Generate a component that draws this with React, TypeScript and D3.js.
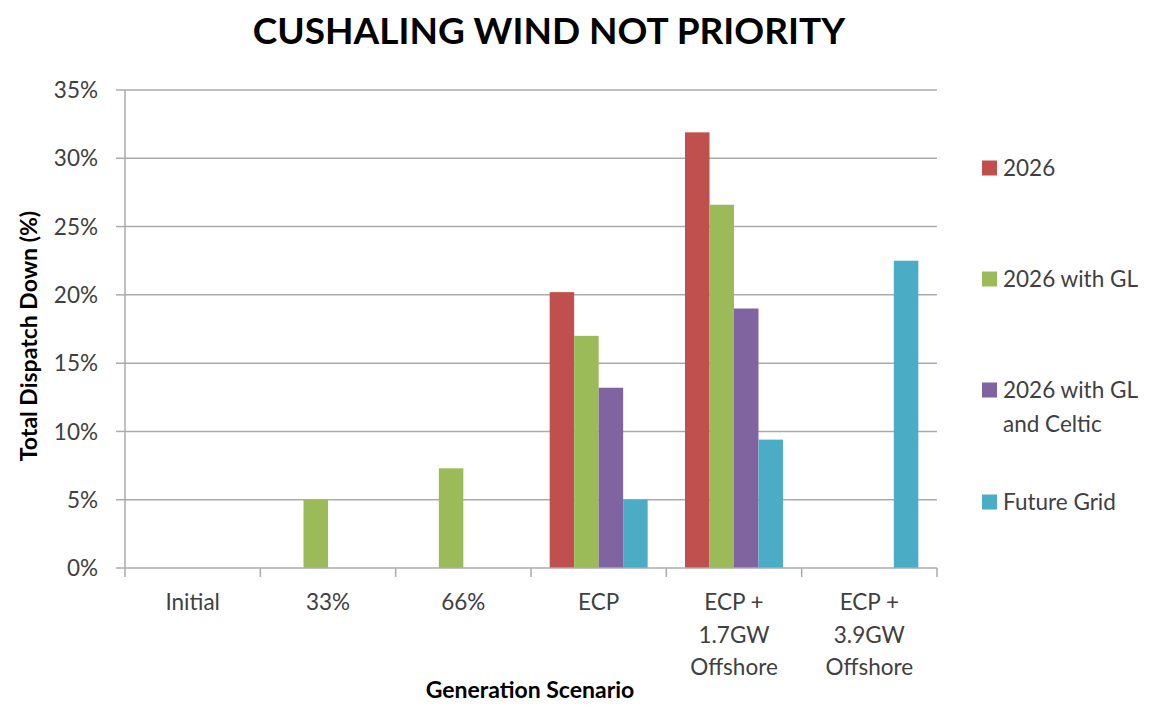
import React from "react";
import * as d3 from "d3";

const categories: string[][] = [
  ["Initial"],
  ["33%"],
  ["66%"],
  ["ECP"],
  ["ECP +", "1.7GW", "Offshore"],
  ["ECP +", "3.9GW", "Offshore"],
];
const seriesNames: string[][] = [
  ["2026"],
  ["2026 with GL"],
  ["2026 with GL", "and Celtic"],
  ["Future Grid"],
];
const seriesColors = ["#C0504D", "#9BBB59", "#8064A2", "#4BACC6"];
const s2026: (number | null)[] = [null, null, null, 0.202, 0.319, null];
const s2026GL: (number | null)[] = [null, 0.05, 0.073, 0.17, 0.266, null];
const s2026GLCeltic: (number | null)[] = [null, null, null, 0.132, 0.19, null];
const sFutureGrid: (number | null)[] = [null, null, null, 0.05, 0.094, 0.225];
const yTicks = [0, 0.05, 0.1, 0.15, 0.2, 0.25, 0.3, 0.35];

const W = 1151;
const H = 707;
const FONT = "Lato, 'Open Sans', sans-serif";
const TEXT = "#404040";
const GRID = "#ABABAB";

export default function App() {
  const left = 125, right = 937, top = 90, bottom = 568;
  const series = [s2026, s2026GL, s2026GLCeltic, sFutureGrid];
  const x0 = d3.scaleBand<number>().domain(categories.map((_, i) => i)).range([left, right]).paddingInner(0).paddingOuter(0);
  const bw = x0.bandwidth();
  const pad = bw * 0.138;
  const x1 = d3.scaleBand<number>().domain(series.map((_, i) => i)).range([pad, bw - pad]).padding(0);
  const y = d3.scaleLinear().domain([0, 0.35]).range([bottom, top]);
  const fmt = d3.format(".0%");
  const legendY = [168, 279, 390, 502];

  return (
    <div style={{ position: "fixed", left: 0, top: 0 }}>
      <svg width={W} height={H} style={{ display: "block", background: "#fff" }} fontFamily={FONT}>
        <text x={549} y={44} textAnchor="middle" fontSize={37} fontWeight="bold" fill="#000">
          CUSHALING WIND NOT PRIORITY
        </text>
        {yTicks.map((t) => (
          <g key={t}>
            {t > 0 && <line x1={left} x2={right} y1={y(t)} y2={y(t)} stroke={GRID} strokeWidth={1.5} />}
            <line x1={left - 9} x2={left} y1={y(t)} y2={y(t)} stroke={GRID} strokeWidth={1.5} />
            <text x={98} y={y(t)} dy="0.36em" textAnchor="end" fontSize={22.5} fill={TEXT}>
              {fmt(t)}
            </text>
          </g>
        ))}
        <line x1={left} x2={left} y1={top} y2={bottom} stroke={GRID} strokeWidth={1.5} />
        {categories.map((c, i) => (
          <g key={i} transform={`translate(${x0(i)},0)`}>
            {series.map((s, j) => {
              const v = s[i];
              if (v == null) return null;
              return (
                <rect key={j} x={x1(j)} y={y(v)} width={x1.bandwidth()} height={y(0) - y(v)} fill={seriesColors[j]} />
              );
            })}
          </g>
        ))}
        <line x1={left} x2={right} y1={bottom} y2={bottom} stroke={GRID} strokeWidth={1.5} />
        {d3.range(categories.length + 1).map((i) => {
          const xx = left + i * bw;
          return <line key={i} x1={xx} x2={xx} y1={bottom} y2={bottom + 9} stroke={GRID} strokeWidth={1.5} />;
        })}
        {categories.map((c, i) => (
          <text key={i} x={(x0(i) as number) + bw / 2} y={610} textAnchor="middle" fontSize={22.5} fill={TEXT}>
            {c.map((line, k) => (
              <tspan key={k} x={(x0(i) as number) + bw / 2} y={610 + k * 32.5}>
                {line}
              </tspan>
            ))}
          </text>
        ))}
        <text x={530} y={698} textAnchor="middle" fontSize={23} fontWeight="bold" fill="#000">
          Generation Scenario
        </text>
        <text transform={`translate(37,336) rotate(-90)`} textAnchor="middle" fontSize={23} fontWeight="bold" fill="#000">
          Total Dispatch Down (%)
        </text>
        {seriesNames.map((n, j) => (
          <g key={j}>
            <rect x={982} y={legendY[j] - 7.5} width={15} height={15} fill={seriesColors[j]} />
            <text x={1003} y={legendY[j]} fontSize={22.5} fill={TEXT}>
              {n.map((line, k) => (
                <tspan key={k} x={1003} dy={k === 0 ? "0.36em" : 34}>
                  {line}
                </tspan>
              ))}
            </text>
          </g>
        ))}
      </svg>
    </div>
  );
}
